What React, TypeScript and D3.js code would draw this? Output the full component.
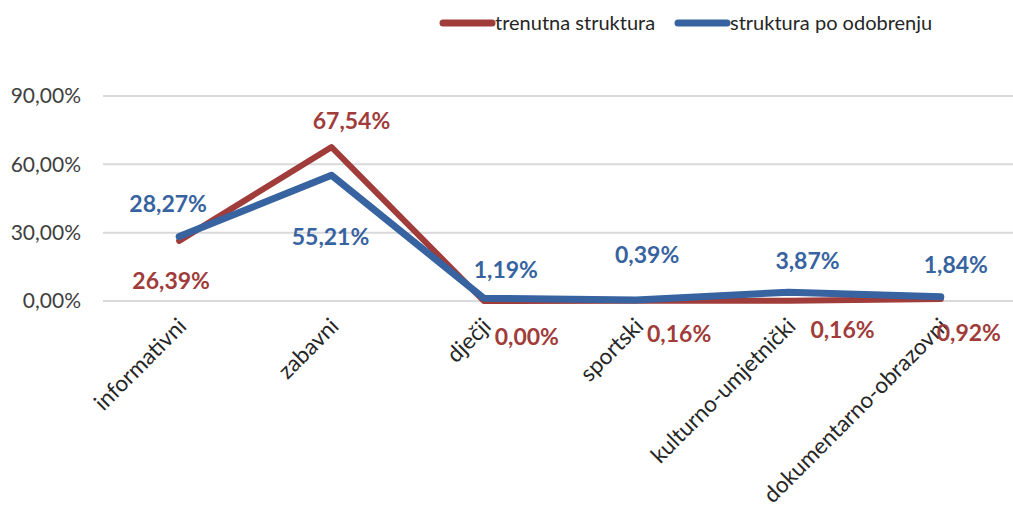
import * as React from "react";
import * as d3 from "d3";

const categories = [
  "informativni",
  "zabavni",
  "dječji",
  "sportski",
  "kulturno-umjetnički",
  "dokumentarno-obrazovni",
];
const currentValues = [26.39, 67.54, 0.0, 0.16, 0.16, 0.92];
const approvedValues = [28.27, 55.21, 1.19, 0.39, 3.87, 1.84];
const yTicks = [0, 30, 60, 90];

// manual label placement, as in the source chart (dx, dy from the point)
const currentLabelOffsets: [number, number][] = [
  [-8, 40],
  [20, -26],
  [43, 36],
  [43, 33],
  [54, 29],
  [28, 34],
];
const approvedLabelOffsets: [number, number][] = [
  [-11, -33],
  [-1, 62],
  [22, -28],
  [11, -45],
  [19, -31],
  [15, -32],
];

const RED = "#A03C3A";
const BLUE = "#3763A0";
const FONT = "Lato, 'Open Sans', sans-serif";

const width = 1013;
const height = 507;
const margin = { left: 103, right: -4, top: 96, bottom: 206 };

const fmt = (v: number) => v.toFixed(2).replace(".", ",") + "%";

function App() {
  const xScale = d3
    .scalePoint<string>()
    .domain(categories)
    .range([margin.left, width - margin.right])
    .padding(0.5);

  const yScale = d3
    .scaleLinear()
    .domain([0, 90])
    .range([height - margin.bottom, margin.top]);

  const line = d3
    .line<number>()
    .x((_, i) => xScale(categories[i]) as number)
    .y((d) => yScale(d));

  const series = [
    { name: "trenutna struktura", values: currentValues, color: RED, offsets: currentLabelOffsets, w: 6 },
    { name: "struktura po odobrenju", values: approvedValues, color: BLUE, offsets: approvedLabelOffsets, w: 7 },
  ];

  return (
    <svg
      width={width}
      height={height}
      style={{ position: "absolute", left: 0, top: 0, background: "#fff" }}
      fontFamily={FONT}
    >
      {/* gridlines and y labels */}
      {yTicks.map((t) => (
        <g key={t}>
          <line
            x1={margin.left}
            x2={width}
            y1={yScale(t)}
            y2={yScale(t)}
            stroke="#D9D9D9"
            strokeWidth={2}
          />
          <text
            x={81}
            y={yScale(t)}
            dy="0.35em"
            textAnchor="end"
            fontSize={21}
            fill="#404040"
          >
            {fmt(t)}
          </text>
        </g>
      ))}

      {/* category labels */}
      {categories.map((c) => (
        <text
          key={c}
          transform={`translate(${(xScale(c) as number) + 3}, ${height - margin.bottom + 21}) rotate(-45)`}
          textAnchor="end"
          dy="0.35em"
          fontSize={22.5}
          fill="#262626"
        >
          {c}
        </text>
      ))}

      {/* lines */}
      {series.map((s) => (
        <path
          key={s.name}
          d={line(s.values) ?? ""}
          fill="none"
          stroke={s.color}
          strokeWidth={s.w}
          strokeLinejoin="round"
          strokeLinecap="round"
        />
      ))}

      {/* data labels */}
      {series.map((s) =>
        s.values.map((v, i) => (
          <text
            key={s.name + i}
            x={(xScale(categories[i]) as number) + s.offsets[i][0]}
            y={yScale(v) + s.offsets[i][1]}
            dy="0.35em"
            textAnchor="middle"
            fontSize={23}
            fontWeight="bold"
            fill={s.color}
          >
            {fmt(v)}
          </text>
        ))
      )}

      {/* legend */}
      {series.map((s, i) => {
        const lx = i === 0 ? 443 : 678;
        return (
          <g key={s.name} transform={`translate(${lx}, 23)`}>
            <line x1={0} x2={49} stroke={s.color} strokeWidth={7} strokeLinecap="round" />
            <text x={52} dy="0.35em" fontSize={20} fill="#262626">
              {s.name}
            </text>
          </g>
        );
      })}
    </svg>
  );
}

export default App;
